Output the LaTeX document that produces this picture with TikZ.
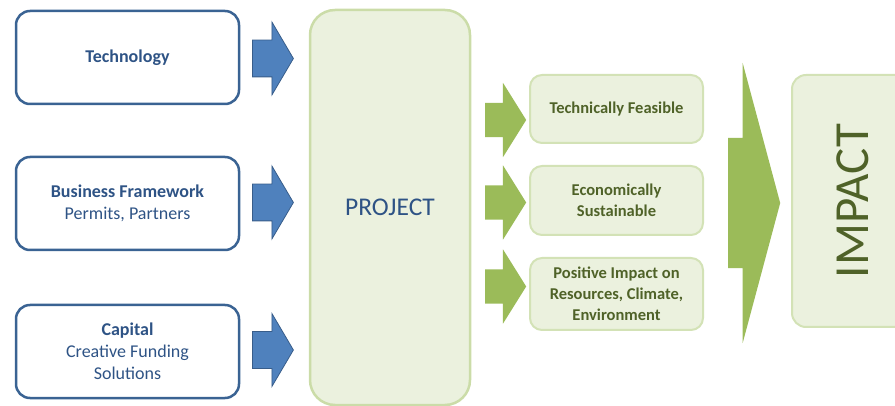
\documentclass[tikz,border=0pt]{standalone}
\usepackage{fontspec}
\setmainfont{Carlito}
\usetikzlibrary{shapes.arrows}

\definecolor{boxblue}{HTML}{3A6393}
\definecolor{textblue}{HTML}{2E5385}
\definecolor{arrowblue}{HTML}{4F81BD}
\definecolor{arrowedge}{HTML}{385D8A}
\definecolor{arrowgreen}{HTML}{9BBB59}
\definecolor{boxgreen}{HTML}{EBF1DE}
\definecolor{edgegreen}{HTML}{D3E2B6}
\definecolor{textgreen}{HTML}{4F6228}

\begin{document}
\begin{tikzpicture}[x=1pt, y=-1pt,
  inbox/.style={draw=boxblue, line width=2.5pt, rounded corners=14pt, minimum width=223pt, minimum height=93pt, align=center, text=textblue, font=\fontsize{18}{22}\selectfont},
  outbox/.style={draw=edgegreen, fill=boxgreen, line width=2pt, rounded corners=12pt, minimum width=173pt, align=center, text=textgreen, font=\bfseries\fontsize{16.5}{21}\selectfont},
  bluearrow/.style={single arrow, fill=arrowblue, draw=arrowedge, line width=0.8pt, inner xsep=0pt, inner ysep=18pt, minimum height=41pt, single arrow head extend=18pt, single arrow tip angle=119, anchor=tail},
  greenarrow/.style={single arrow, fill=arrowgreen, inner xsep=0pt, inner ysep=17pt, minimum height=41pt, single arrow head extend=20pt, single arrow tip angle=116, anchor=tail}]
\useasboundingbox (0,0) rectangle (895,406);

% Inputs
\node[inbox] (tech) at (127.5,57.5) {\textbf{Technology}};
\node[inbox] (biz) at (127.5,203.5) {\textbf{Business Framework}\\Permits, Partners};
\node[inbox] (capital) at (127.5,351.5) {\textbf{Capital}\\Creative Funding\\Solutions};

% Arrows into the project
\node[bluearrow] (techarrow) at (252,58.5) {};
\node[bluearrow] (bizarrow) at (252,202.5) {};
\node[bluearrow] (caparrow) at (252,350) {};

% Project
\node[draw=edgegreen!85!arrowgreen, fill=boxgreen, line width=2.5pt, rounded corners=25pt, minimum width=160pt, minimum height=395pt, text=textblue, font=\fontsize{25.5}{30}\selectfont] (project) at (390,207.5) {PROJECT};

% Outcomes
\node[greenarrow] (feasarrow) at (485,120) {};
\node[greenarrow] (susarrow) at (485,202.5) {};
\node[greenarrow] (posarrow) at (485,286.5) {};

\node[outbox, minimum height=68pt] (feasible) at (616.5,109) {Technically Feasible};
\node[outbox, minimum height=69pt] (sustain) at (616.5,200.5) {Economically\\Sustainable};
\node[outbox, minimum height=72pt] (positive) at (616.5,294) {Positive Impact on\\Resources, Climate,\\Environment};

% Impact
\node[single arrow, fill=arrowgreen, inner xsep=0pt, inner ysep=65pt, minimum height=52pt, single arrow head extend=75pt, single arrow tip angle=150, anchor=tail] (impactarrow) at (728,203) {};
\node[draw=edgegreen, fill=boxgreen, line width=2pt, rounded corners=14pt, minimum width=252pt, minimum height=122pt, rotate=90, text=textgreen, font=\fontsize{49}{54}\selectfont] (impact) at (853,201) {IMPACT};
\end{tikzpicture}
\end{document}
